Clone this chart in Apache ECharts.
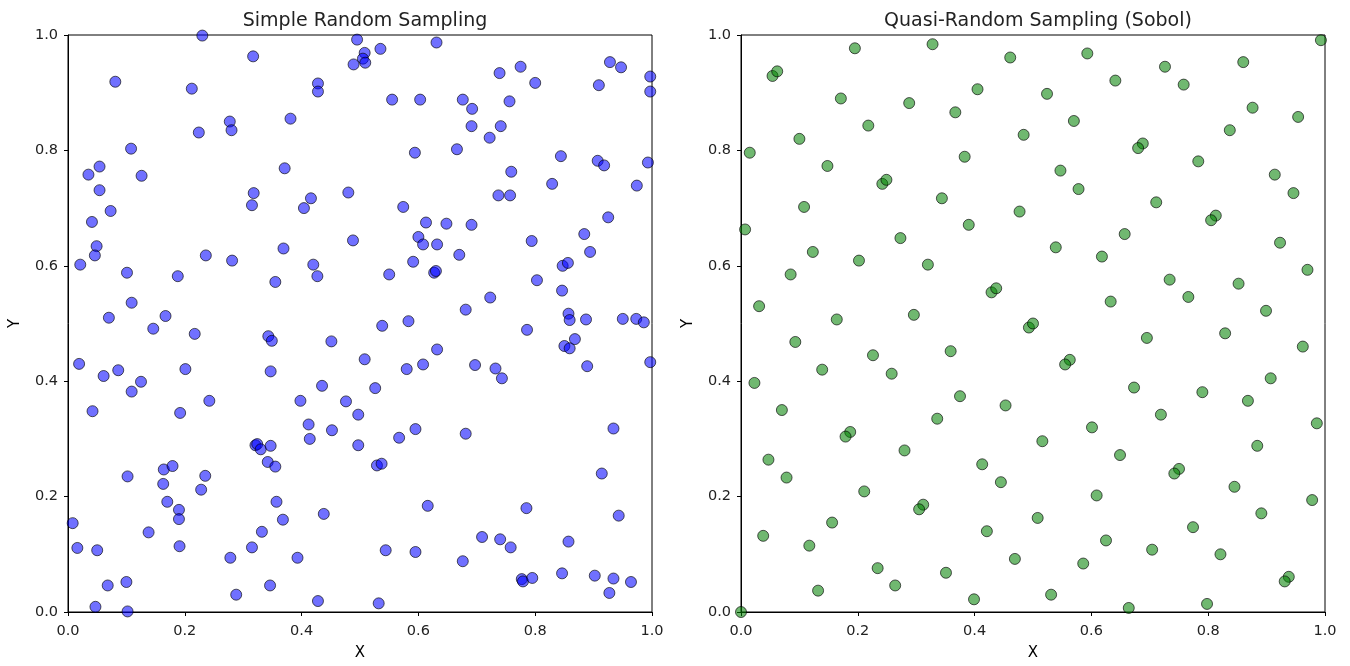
<!DOCTYPE html>
<html>
<head>
<meta charset="utf-8">
<title>Sampling</title>
<script src="https://cdn.jsdelivr.net/npm/echarts@6/dist/echarts.min.js"></script>
<style>
  html, body { margin: 0; padding: 0; background: #fff; }
</style>
</head>
<body>
<div id="main" style="width:1350px;height:666px;"></div>
<script type="text/javascript">
// panel titles
var titles = ['Simple Random Sampling', 'Quasi-Random Sampling (Sobol)'];

// simple random sampling
var randomX = [
  0.230, 0.495, 0.317, 0.489, 0.081, 0.212, 0.428, 0.428, 0.277, 0.280,
  0.224, 0.381, 0.108, 0.054, 0.035, 0.126, 0.054, 0.073, 0.041, 0.371,
  0.318, 0.315, 0.416, 0.404, 0.480, 0.488, 0.049, 0.046, 0.021, 0.101,
  0.188, 0.236, 0.281, 0.369, 0.355, 0.420, 0.427, 0.109, 0.070, 0.167,
  0.508, 0.505, 0.509, 0.535, 0.631, 0.739, 0.775, 0.800, 0.928, 0.947,
  0.909, 0.997, 0.997, 0.555, 0.603, 0.676, 0.692, 0.756, 0.691, 0.741,
  0.722, 0.594, 0.666, 0.759, 0.844, 0.907, 0.918, 0.993, 0.829, 0.974,
  0.737, 0.757, 0.574, 0.613, 0.648, 0.691, 0.600, 0.608, 0.632, 0.670,
  0.794, 0.925, 0.884, 0.894, 0.591, 0.627, 0.630, 0.550, 0.803, 0.847,
  0.856, 0.846, 0.723, 0.681, 0.857, 0.859, 0.887, 0.950, 0.973, 0.986,
  0.583, 0.538, 0.786, 0.850, 0.859, 0.868, 0.889, 0.997, 0.508, 0.632,
  0.580, 0.608, 0.697, 0.732, 0.743, 0.526, 0.595, 0.567, 0.681, 0.934,
  0.529, 0.537, 0.914, 0.616, 0.785, 0.943, 0.709, 0.740, 0.758, 0.857,
  0.544, 0.595, 0.676, 0.777, 0.779, 0.795, 0.846, 0.902, 0.934, 0.964,
  0.927, 0.532, 0.146, 0.217, 0.343, 0.349, 0.451, 0.019, 0.061, 0.086,
  0.125, 0.109, 0.201, 0.347, 0.042, 0.192, 0.242, 0.398, 0.435, 0.476,
  0.497, 0.412, 0.414, 0.452, 0.497, 0.321, 0.324, 0.330, 0.347, 0.342,
  0.355, 0.164, 0.179, 0.163, 0.102, 0.235, 0.228, 0.170, 0.190, 0.190,
  0.357, 0.368, 0.332, 0.315, 0.438, 0.008, 0.138, 0.016, 0.050, 0.191,
  0.278, 0.393, 0.068, 0.100, 0.346, 0.288, 0.428, 0.047, 0.102
];
var randomY = [
  0.999, 0.992, 0.963, 0.949, 0.919, 0.907, 0.916, 0.902, 0.850, 0.835,
  0.831, 0.855, 0.803, 0.772, 0.758, 0.756, 0.731, 0.695, 0.676, 0.769,
  0.726, 0.705, 0.717, 0.700, 0.727, 0.644, 0.634, 0.618, 0.602, 0.588,
  0.582, 0.618, 0.609, 0.630, 0.572, 0.602, 0.582, 0.536, 0.510, 0.513,
  0.969, 0.959, 0.952, 0.976, 0.987, 0.934, 0.945, 0.917, 0.953, 0.944,
  0.913, 0.928, 0.902, 0.888, 0.888, 0.888, 0.872, 0.885, 0.842, 0.842,
  0.822, 0.796, 0.802, 0.763, 0.790, 0.782, 0.774, 0.779, 0.742, 0.739,
  0.722, 0.722, 0.702, 0.675, 0.673, 0.671, 0.650, 0.637, 0.637, 0.619,
  0.643, 0.684, 0.655, 0.624, 0.607, 0.588, 0.591, 0.585, 0.575, 0.600,
  0.605, 0.557, 0.545, 0.524, 0.517, 0.506, 0.507, 0.508, 0.508, 0.502,
  0.504, 0.496, 0.489, 0.461, 0.457, 0.473, 0.426, 0.433, 0.438, 0.455,
  0.421, 0.429, 0.428, 0.422, 0.405, 0.388, 0.317, 0.302, 0.309, 0.318,
  0.254, 0.257, 0.240, 0.184, 0.180, 0.167, 0.130, 0.126, 0.112, 0.122,
  0.107, 0.104, 0.088, 0.057, 0.053, 0.059, 0.067, 0.063, 0.058, 0.052,
  0.033, 0.015, 0.491, 0.482, 0.478, 0.470, 0.469, 0.430, 0.409, 0.419,
  0.399, 0.382, 0.421, 0.417, 0.348, 0.345, 0.366, 0.366, 0.392, 0.365,
  0.342, 0.325, 0.300, 0.315, 0.289, 0.289, 0.291, 0.282, 0.288, 0.260,
  0.252, 0.247, 0.253, 0.222, 0.235, 0.236, 0.212, 0.191, 0.177, 0.161,
  0.191, 0.160, 0.139, 0.112, 0.170, 0.154, 0.138, 0.111, 0.107, 0.114,
  0.094, 0.094, 0.046, 0.052, 0.046, 0.030, 0.019, 0.009, 0.001
];

// sobol points
var sobolX = [
  0.195, 0.328, 0.461, 0.054, 0.062, 0.405, 0.171, 0.288, 0.367, 0.218,
  0.484, 0.100, 0.015, 0.383, 0.148, 0.242, 0.249, 0.344, 0.108, 0.477,
  0.007, 0.390, 0.273, 0.123, 0.202, 0.320, 0.085, 0.429, 0.437, 0.031,
  0.164, 0.296, 0.493, 0.500,
  0.993, 0.593, 0.726, 0.860, 0.641, 0.758, 0.524, 0.876, 0.954, 0.570,
  0.837, 0.688, 0.680, 0.783, 0.547, 0.914, 0.578, 0.946, 0.711, 0.813,
  0.805, 0.657, 0.539, 0.618, 0.923, 0.970, 0.734, 0.852, 0.633, 0.766,
  0.899,
  0.093, 0.226, 0.359, 0.139, 0.258, 0.023, 0.375, 0.453, 0.070, 0.336,
  0.187, 0.179, 0.280, 0.047, 0.413, 0.078, 0.445, 0.211, 0.312, 0.305,
  0.156, 0.038, 0.117, 0.421, 0.469, 0.234, 0.351, 0.132, 0.264, 0.399,
  0.000,
  0.695, 0.829, 0.962, 0.563, 0.555, 0.907, 0.673, 0.790, 0.868, 0.719,
  0.986, 0.601, 0.516, 0.884, 0.649, 0.750, 0.742, 0.845, 0.609, 0.978,
  0.508, 0.891, 0.774, 0.625, 0.704, 0.821, 0.586, 0.938, 0.931, 0.531,
  0.664, 0.798
];
var sobolY = [
  0.977, 0.984, 0.961, 0.929, 0.937, 0.906, 0.890, 0.882, 0.866, 0.843,
  0.827, 0.820, 0.796, 0.789, 0.773, 0.742, 0.749, 0.717, 0.702, 0.694,
  0.663, 0.671, 0.648, 0.624, 0.609, 0.602, 0.585, 0.554, 0.561, 0.530,
  0.507, 0.515, 0.493, 0.500,
  0.991, 0.968, 0.945, 0.953, 0.921, 0.914, 0.898, 0.874, 0.858, 0.851,
  0.835, 0.812, 0.804, 0.781, 0.765, 0.758, 0.733, 0.726, 0.710, 0.687,
  0.679, 0.655, 0.632, 0.616, 0.640, 0.593, 0.576, 0.569, 0.538, 0.546,
  0.522,
  0.468, 0.445, 0.452, 0.420, 0.413, 0.397, 0.374, 0.358, 0.350, 0.335,
  0.312, 0.304, 0.280, 0.264, 0.256, 0.233, 0.225, 0.209, 0.186, 0.178,
  0.155, 0.132, 0.115, 0.140, 0.092, 0.076, 0.068, 0.037, 0.046, 0.022,
  0.000,
  0.475, 0.483, 0.460, 0.437, 0.429, 0.405, 0.389, 0.381, 0.366, 0.342,
  0.327, 0.320, 0.296, 0.288, 0.272, 0.248, 0.240, 0.217, 0.202, 0.194,
  0.163, 0.171, 0.147, 0.124, 0.108, 0.100, 0.084, 0.061, 0.053, 0.030,
  0.007, 0.014
];

function pairs(xs, ys) {
  var out = [];
  for (var i = 0; i < xs.length; i++) {
    out.push([xs[i], ys[i]]);
  }
  return out;
}

var font = 'DejaVu Sans';
var gridLefts = [68, 741];

function makeX(idx) {
  return {
    type: 'value', gridIndex: idx, min: 0, max: 1, interval: 0.2,
    name: 'X', nameLocation: 'middle', nameGap: 34,
    nameTextStyle: { color: '#000', fontSize: 15, fontFamily: font },
    splitLine: { show: false },
    axisLine: { show: true, onZero: false, lineStyle: { color: '#000', width: 1 } },
    axisTick: { show: true, length: 4, lineStyle: { color: '#000' } },
    axisLabel: {
      color: '#222', fontSize: 14.5, fontFamily: font, margin: 12,
      formatter: function (v) { return v.toFixed(1); }
    }
  };
}

function makeY(idx) {
  return {
    type: 'value', gridIndex: idx, min: 0, max: 1, interval: 0.2,
    name: 'Y', nameLocation: 'middle', nameGap: 45, nameRotate: 90,
    nameTextStyle: { color: '#000', fontSize: 15, fontFamily: font },
    splitLine: { show: false },
    axisLine: { show: true, onZero: false, lineStyle: { color: '#000', width: 1 } },
    axisTick: { show: true, length: 4, lineStyle: { color: '#000' } },
    axisLabel: {
      color: '#222', fontSize: 14.5, fontFamily: font, margin: 10,
      formatter: function (v) { return v.toFixed(1); }
    }
  };
}

var chart = echarts.init(document.getElementById('main'), null, { renderer: 'canvas' });

chart.setOption({
  animation: false,
  backgroundColor: '#fff',
  title: [
    { text: titles[0], left: gridLefts[0] + 292, top: 7, textAlign: 'center',
      textStyle: { color: '#222', fontSize: 19, fontWeight: 'normal', fontFamily: font } },
    { text: titles[1], left: gridLefts[1] + 292, top: 7, textAlign: 'center',
      textStyle: { color: '#222', fontSize: 19, fontWeight: 'normal', fontFamily: font } }
  ],
  grid: [
    { left: gridLefts[0], top: 35, width: 584, height: 584, show: true, borderColor: '#000', borderWidth: 1, backgroundColor: 'transparent' },
    { left: gridLefts[1], top: 35, width: 584, height: 584, show: true, borderColor: '#000', borderWidth: 1, backgroundColor: 'transparent' }
  ],
  xAxis: [makeX(0), makeX(1)],
  yAxis: [makeY(0), makeY(1)],
  series: [
    {
      type: 'scatter', xAxisIndex: 0, yAxisIndex: 0, clip: true,
      symbolSize: 11,
      itemStyle: { color: 'rgba(0,0,255,0.7)', borderColor: 'rgba(0,0,0,0.8)', borderWidth: 1 },
      data: pairs(randomX, randomY)
    },
    {
      type: 'scatter', xAxisIndex: 1, yAxisIndex: 1, clip: true,
      symbolSize: 11,
      itemStyle: { color: 'rgba(0,128,0,0.7)', borderColor: 'rgba(0,0,0,0.8)', borderWidth: 1 },
      data: pairs(sobolX, sobolY)
    }
  ]
});
</script>
</body>
</html>
